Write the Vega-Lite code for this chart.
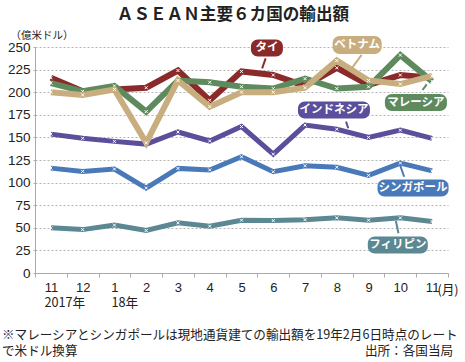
{
  "$schema": "https://vega.github.io/schema/vega-lite/v6.json",
  "width": 413,
  "height": 226,
  "autosize": {"type": "none"},
  "padding": {"left": 35, "top": 47, "right": 17, "bottom": 89},
  "background": "white",
  "title": {
    "text": "ＡＳＥＡＮ主要６カ国の輸出額",
    "font": "Noto Sans CJK JP",
    "fontSize": 16.6,
    "fontWeight": "bold",
    "color": "#222222",
    "anchor": "middle",
    "frame": "group",
    "dx": -8.5,
    "offset": 6.5
  },
  "config": {"view": {"stroke": null}},
  "datasets": {
    "series": [
      {"c": "タイ", "i": 0, "v": 216}, {"c": "タイ", "i": 1, "v": 201}, {"c": "タイ", "i": 2, "v": 203}, {"c": "タイ", "i": 3, "v": 205}, {"c": "タイ", "i": 4, "v": 224}, {"c": "タイ", "i": 5, "v": 191}, {"c": "タイ", "i": 6, "v": 223}, {"c": "タイ", "i": 7, "v": 219}, {"c": "タイ", "i": 8, "v": 207}, {"c": "タイ", "i": 9, "v": 227}, {"c": "タイ", "i": 10, "v": 208}, {"c": "タイ", "i": 11, "v": 219}, {"c": "タイ", "i": 12, "v": 216},
      {"c": "マレーシア", "i": 0, "v": 210}, {"c": "マレーシア", "i": 1, "v": 201}, {"c": "マレーシア", "i": 2, "v": 207}, {"c": "マレーシア", "i": 3, "v": 178.5}, {"c": "マレーシア", "i": 4, "v": 213}, {"c": "マレーシア", "i": 5, "v": 211}, {"c": "マレーシア", "i": 6, "v": 206}, {"c": "マレーシア", "i": 7, "v": 204}, {"c": "マレーシア", "i": 8, "v": 215}, {"c": "マレーシア", "i": 9, "v": 204}, {"c": "マレーシア", "i": 10, "v": 206}, {"c": "マレーシア", "i": 11, "v": 241}, {"c": "マレーシア", "i": 12, "v": 212},
      {"c": "ベトナム", "i": 0, "v": 200}, {"c": "ベトナム", "i": 1, "v": 197}, {"c": "ベトナム", "i": 2, "v": 203}, {"c": "ベトナム", "i": 3, "v": 144}, {"c": "ベトナム", "i": 4, "v": 213}, {"c": "ベトナム", "i": 5, "v": 184}, {"c": "ベトナム", "i": 6, "v": 200}, {"c": "ベトナム", "i": 7, "v": 200}, {"c": "ベトナム", "i": 8, "v": 205}, {"c": "ベトナム", "i": 9, "v": 235}, {"c": "ベトナム", "i": 10, "v": 213}, {"c": "ベトナム", "i": 11, "v": 209}, {"c": "ベトナム", "i": 12, "v": 218},
      {"c": "インドネシア", "i": 0, "v": 153.6}, {"c": "インドネシア", "i": 1, "v": 149}, {"c": "インドネシア", "i": 2, "v": 145.6}, {"c": "インドネシア", "i": 3, "v": 142.6}, {"c": "インドネシア", "i": 4, "v": 156}, {"c": "インドネシア", "i": 5, "v": 146}, {"c": "インドネシア", "i": 6, "v": 162}, {"c": "インドネシア", "i": 7, "v": 131.5}, {"c": "インドネシア", "i": 8, "v": 163.6}, {"c": "インドネシア", "i": 9, "v": 159}, {"c": "インドネシア", "i": 10, "v": 150}, {"c": "インドネシア", "i": 11, "v": 158}, {"c": "インドネシア", "i": 12, "v": 149},
      {"c": "シンガポール", "i": 0, "v": 116}, {"c": "シンガポール", "i": 1, "v": 112.4}, {"c": "シンガポール", "i": 2, "v": 115}, {"c": "シンガポール", "i": 3, "v": 94}, {"c": "シンガポール", "i": 4, "v": 115.7}, {"c": "シンガポール", "i": 5, "v": 114}, {"c": "シンガポール", "i": 6, "v": 128.6}, {"c": "シンガポール", "i": 7, "v": 112}, {"c": "シンガポール", "i": 8, "v": 118.7}, {"c": "シンガポール", "i": 9, "v": 117}, {"c": "シンガポール", "i": 10, "v": 108}, {"c": "シンガポール", "i": 11, "v": 121.6}, {"c": "シンガポール", "i": 12, "v": 113},
      {"c": "フィリピン", "i": 0, "v": 50}, {"c": "フィリピン", "i": 1, "v": 48}, {"c": "フィリピン", "i": 2, "v": 53}, {"c": "フィリピン", "i": 3, "v": 47}, {"c": "フィリピン", "i": 4, "v": 55.5}, {"c": "フィリピン", "i": 5, "v": 51.8}, {"c": "フィリピン", "i": 6, "v": 58.4}, {"c": "フィリピン", "i": 7, "v": 58}, {"c": "フィリピン", "i": 8, "v": 59}, {"c": "フィリピン", "i": 9, "v": 61}, {"c": "フィリピン", "i": 10, "v": 58.4}, {"c": "フィリピン", "i": 11, "v": 61}, {"c": "フィリピン", "i": 12, "v": 57}
    ],
    "labels": [
      {"c": "タイ", "i": 6.8, "v": 248.9},
      {"c": "ベトナム", "i": 9.64, "v": 252.2},
      {"c": "インドネシア", "i": 8.91, "v": 180.3},
      {"c": "マレーシア", "i": 11.49, "v": 188.6},
      {"c": "シンガポール", "i": 11.4, "v": 94},
      {"c": "フィリピン", "i": 10.92, "v": 31}
    ],
    "connectors": [
      {"c": "タイ", "i": 6.76, "v": 237.5, "i2": 6.65, "v2": 226.4},
      {"c": "ベトナム", "i": 9.78, "v": 241.2, "i2": 9.47, "v2": 226.4},
      {"c": "インドネシア", "i": 9.29, "v": 167.4, "i2": 9.36, "v2": 160.1},
      {"c": "マレーシア", "i": 11.7, "v": 202.4, "i2": 11.83, "v2": 208.7},
      {"c": "シンガポール", "i": 10.99, "v": 119.5, "i2": 11.12, "v2": 106.5},
      {"c": "フィリピン", "i": 10.86, "v": 57.5, "i2": 10.94, "v2": 43.9}
    ],
    "notesCenter": [
      {"t": "2017年", "i": 0.44, "v": -33.2},
      {"t": "18年", "i": 2.33, "v": -33.2},
      {"t": "(月)", "i": 12.5, "v": -18.8}
    ],
    "notesLeft": [
      {"t": "※マレーシアとシンガポールは現地通貨建ての輸出額を19年2月6日時点のレート", "i": -1.54, "v": -68.6},
      {"t": "で米ドル換算", "i": -1.54, "v": -86.3}
    ],
    "notesRight": [
      {"t": "出所：各国当局", "i": 12.66, "v": -86.3}
    ]
  },
  "encoding": {
    "x": {
      "field": "i",
      "type": "quantitative",
      "scale": {"domain": [-0.5, 12.5], "nice": false, "zero": false},
      "axis": {
        "title": null,
        "values": [-0.5, 0, 0.5, 1, 1.5, 2, 2.5, 3, 3.5, 4, 4.5, 5, 5.5, 6, 6.5, 7, 7.5, 8, 8.5, 9, 9.5, 10, 10.5, 11, 11.5, 12, 12.5],
        "labelExpr": "datum.value % 1 === 0 ? ['11','12','1','2','3','4','5','6','7','8','9','10','11'][datum.value] : ''",
        "labelOverlap": false,
        "labelFlush": false,
        "labelFont": "Liberation Sans Narrow, Liberation Sans, sans-serif",
        "labelFontSize": 13,
        "labelColor": "#222222",
        "labelPadding": 4,
        "grid": false,
        "domainColor": "#aaaaaa",
        "tickColor": "#aaaaaa",
        "tickSize": 4,
        "tickOpacity": {"condition": {"test": "datum.value % 1 !== 0", "value": 1}, "value": 0}
      }
    },
    "y": {
      "field": "v",
      "type": "quantitative",
      "scale": {"domain": [0, 250], "nice": false, "zero": false},
      "axis": {
        "title": "（億米ドル）",
        "titleAngle": 0,
        "titleAlign": "left",
        "titleBaseline": "middle",
        "titleX": -25,
        "titleY": -12,
        "titleFont": "Noto Sans CJK JP",
        "titleFontSize": 10.5,
        "titleFontWeight": "normal",
        "titleColor": "#222222",
        "values": [0, 25, 50, 75, 100, 125, 150, 175, 200, 225, 250],
        "labelFont": "Liberation Sans Narrow, Liberation Sans, sans-serif",
        "labelFontSize": 13.5,
        "labelColor": "#222222",
        "labelPadding": 3,
        "grid": true,
        "gridColor": "#b5b5b5",
        "gridDash": [2, 2],
        "gridWidth": 1,
        "domainColor": "#aaaaaa",
        "tickColor": "#aaaaaa",
        "tickSize": 2
      }
    }
  },
  "layer": [
    {
      "data": {"name": "series"},
      "transform": [{"filter": {"field": "c", "oneOf": ["インドネシア", "シンガポール", "フィリピン"]}}],
      "mark": {"type": "line", "strokeWidth": 5, "strokeJoin": "miter"},
      "encoding": {
        "color": {
          "field": "c",
          "type": "nominal",
          "scale": {
            "domain": ["タイ", "マレーシア", "ベトナム", "インドネシア", "シンガポール", "フィリピン"],
            "range": ["#8B2A2A", "#5E8A5E", "#C8AE7E", "#5B4E9B", "#4A79BA", "#5B8892"]
          },
          "legend": null
        }
      }
    },
    {
      "data": {"name": "series"},
      "transform": [{"filter": {"field": "c", "oneOf": ["インドネシア", "シンガポール", "フィリピン"]}}],
      "mark": {"type": "point", "shape": "M-1.5,-1.5L1.5,1.5M1.5,-1.5L-1.5,1.5", "size": 4, "filled": false, "stroke": "white", "strokeWidth": 1, "opacity": 1}
    },
    {
      "data": {"name": "series"},
      "transform": [{"filter": {"field": "c", "equal": "タイ"}}],
      "mark": {"type": "line", "strokeWidth": 6, "strokeJoin": "miter", "color": "#8B2A2A"}
    },
    {
      "data": {"name": "series"},
      "transform": [{"filter": {"field": "c", "equal": "タイ"}}],
      "mark": {"type": "point", "shape": "M-1.5,-1.5L1.5,1.5M1.5,-1.5L-1.5,1.5", "size": 4, "filled": false, "stroke": "white", "strokeWidth": 1, "opacity": 1}
    },
    {
      "data": {"name": "series"},
      "transform": [{"filter": {"field": "c", "equal": "マレーシア"}}],
      "mark": {"type": "line", "strokeWidth": 6, "strokeJoin": "miter", "color": "#5E8A5E"}
    },
    {
      "data": {"name": "series"},
      "transform": [{"filter": {"field": "c", "equal": "マレーシア"}}],
      "mark": {"type": "point", "shape": "M-1.5,-1.5L1.5,1.5M1.5,-1.5L-1.5,1.5", "size": 4, "filled": false, "stroke": "white", "strokeWidth": 1, "opacity": 1}
    },
    {
      "data": {"name": "series"},
      "transform": [{"filter": {"field": "c", "equal": "ベトナム"}}],
      "mark": {"type": "line", "strokeWidth": 6, "strokeJoin": "miter", "color": "#C8AE7E"}
    },
    {
      "data": {"name": "series"},
      "transform": [{"filter": {"field": "c", "equal": "ベトナム"}}],
      "mark": {"type": "point", "shape": "M-1.5,-1.5L1.5,1.5M1.5,-1.5L-1.5,1.5", "size": 4, "filled": false, "stroke": "white", "strokeWidth": 1, "opacity": 1}
    },
    {
      "data": {"name": "connectors"},
      "mark": {"type": "rule", "strokeWidth": 2},
      "encoding": {
        "x2": {"field": "i2"},
        "y2": {"field": "v2"},
        "color": {"field": "c", "type": "nominal", "legend": null}
      }
    },
    {
      "data": {"name": "labels"},
      "mark": {"type": "point", "filled": true, "size": 4, "opacity": 1, "strokeWidth": 0},
      "encoding": {
        "color": {"field": "c", "type": "nominal", "legend": null},
        "shape": {
          "field": "c",
          "type": "nominal",
          "legend": null,
          "scale": {
            "domain": ["タイ", "マレーシア", "ベトナム", "インドネシア", "シンガポール", "フィリピン"],
            "range": [
              "M-9,-8.5H9A7,7,0,0,1,16,-1.5V1.5A7,7,0,0,1,9,8.5H-9A7,7,0,0,1,-16,1.5V-1.5A7,7,0,0,1,-9,-8.5Z",
              "M-24,-8.5H24A7,7,0,0,1,31,-1.5V1.5A7,7,0,0,1,24,8.5H-24A7,7,0,0,1,-31,1.5V-1.5A7,7,0,0,1,-24,-8.5Z",
              "M-17.5,-9H17.5A7,7,0,0,1,24.5,-2V2A7,7,0,0,1,17.5,9H-17.5A7,7,0,0,1,-24.5,2V-2A7,7,0,0,1,-17.5,-9Z",
              "M-29,-8.5H29A7,7,0,0,1,36,-1.5V1.5A7,7,0,0,1,29,8.5H-29A7,7,0,0,1,-36,1.5V-1.5A7,7,0,0,1,-29,-8.5Z",
              "M-28.5,-8.5H28.5A7,7,0,0,1,35.5,-1.5V1.5A7,7,0,0,1,28.5,8.5H-28.5A7,7,0,0,1,-35.5,1.5V-1.5A7,7,0,0,1,-28.5,-8.5Z",
              "M-23,-8.5H23A7,7,0,0,1,30,-1.5V1.5A7,7,0,0,1,23,8.5H-23A7,7,0,0,1,-30,1.5V-1.5A7,7,0,0,1,-23,-8.5Z"
            ]
          }
        }
      }
    },
    {
      "data": {"name": "labels"},
      "mark": {"type": "text", "font": "Noto Sans CJK JP", "fontSize": 11.5, "fontWeight": "bold", "color": "white", "align": "center", "baseline": "middle"},
      "encoding": {"text": {"field": "c"}}
    },
    {
      "data": {"name": "notesCenter"},
      "mark": {"type": "text", "font": "Noto Sans CJK JP", "fontSize": 12.7, "color": "#222222", "align": "center", "baseline": "middle"},
      "encoding": {"text": {"field": "t"}}
    },
    {
      "data": {"name": "notesLeft"},
      "mark": {"type": "text", "font": "Noto Sans CJK JP", "fontSize": 12.6, "color": "#222222", "align": "left", "baseline": "middle"},
      "encoding": {"text": {"field": "t"}}
    },
    {
      "data": {"name": "notesRight"},
      "mark": {"type": "text", "font": "Noto Sans CJK JP", "fontSize": 12.6, "color": "#222222", "align": "right", "baseline": "middle"},
      "encoding": {"text": {"field": "t"}}
    }
  ]
}
